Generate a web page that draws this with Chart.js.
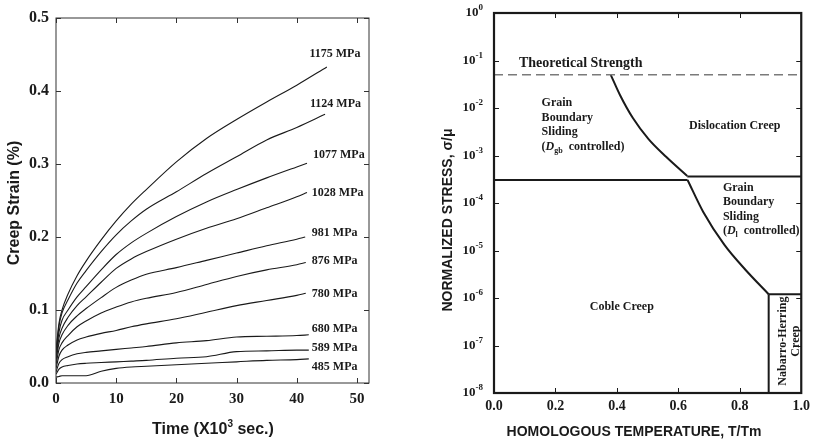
<!DOCTYPE html>
<html>
<head>
<meta charset="utf-8">
<script src="https://cdn.jsdelivr.net/npm/chart.js@4"></script>
<style>
  body { margin: 0; background: #fff; }
  #wrap { position: relative; width: 815px; height: 439px; background: #fff; }
  #creep { position: absolute; left: 0; top: 0; }
  #mech { position: absolute; left: 400px; top: 0; }
</style>
</head>
<body>
<div id="wrap">
  <canvas id="creep" width="400" height="439"></canvas>
  <canvas id="mech" width="415" height="439"></canvas>
</div>
<script>
const SERIF = '"Liberation Serif", "Times New Roman", serif';
const SANS = '"Liberation Sans", Arial, sans-serif';
const INK = '#1a1a1a';

// ---- creep curves (time in 10^3 s, strain in %) ----
const stressLabels = ['1175 MPa', '1124 MPa', '1077 MPa', '1028 MPa', '981 MPa',
                      '876 MPa', '780 MPa', '680 MPa', '589 MPa', '485 MPa'];
const sampleTimes = [0, 0.5, 1, 2, 3.5, 5, 7.5, 10, 12.5, 15, 20, 25, 30, 35, 40];
// last point of every curve sits at its own end time
const endTimes = [45, 44.7, 41.7, 41.7, 41.4, 41.5, 41.5, 42, 42, 42];

const strain1175 = [0.045, 0.082, 0.100, 0.122, 0.147, 0.167, 0.196, 0.222, 0.245, 0.265, 0.303, 0.335, 0.361, 0.385, 0.408, 0.433];
const strain1124 = [0.042, 0.078, 0.096, 0.114, 0.137, 0.154, 0.180, 0.203, 0.222, 0.238, 0.262, 0.287, 0.310, 0.333, 0.350, 0.368];
const strain1077 = [0.038, 0.070, 0.086, 0.100, 0.118, 0.132, 0.155, 0.176, 0.192, 0.205, 0.228, 0.248, 0.265, 0.281, 0.296, 0.301];
const strain1028 = [0.034, 0.062, 0.075, 0.090, 0.106, 0.118, 0.138, 0.157, 0.170, 0.180, 0.197, 0.212, 0.225, 0.240, 0.255, 0.261];
const strain981  = [0.030, 0.055, 0.066, 0.079, 0.092, 0.102, 0.117, 0.131, 0.141, 0.149, 0.158, 0.168, 0.178, 0.188, 0.197, 0.200];
const strain876  = [0.025, 0.046, 0.055, 0.065, 0.077, 0.085, 0.096, 0.104, 0.111, 0.116, 0.124, 0.135, 0.146, 0.155, 0.162, 0.165];
const strain780  = [0.020, 0.037, 0.045, 0.052, 0.059, 0.063, 0.068, 0.072, 0.077, 0.081, 0.088, 0.097, 0.106, 0.113, 0.120, 0.123];
const strain680  = [0.015, 0.027, 0.032, 0.036, 0.040, 0.042, 0.044, 0.046, 0.048, 0.050, 0.055, 0.058, 0.063, 0.064, 0.065, 0.066];
const strain589  = [0.012, 0.019, 0.022, 0.024, 0.026, 0.027, 0.028, 0.029, 0.030, 0.031, 0.034, 0.036, 0.043, 0.044, 0.045, 0.045];
const strain485  = [0.008, 0.009, 0.010, 0.010, 0.010, 0.010, 0.016, 0.020, 0.022, 0.023, 0.025, 0.027, 0.029, 0.031, 0.032, 0.033];
const strainSeries = [strain1175, strain1124, strain1077, strain1028, strain981,
                      strain876, strain780, strain680, strain589, strain485];

// where each stress tag is written (data units)
const tagTimes   = [42.1, 42.2, 42.7, 42.5, 42.5, 42.5, 42.5, 42.5, 42.5, 42.5];
const tagStrains = [0.451, 0.382, 0.312, 0.260, 0.205, 0.167, 0.122, 0.074, 0.048, 0.022];

// ---- deformation mechanism map (T/Tm vs sigma/mu) ----
const stressDecades = [0, -1, -2, -3, -4, -5, -6, -7, -8];
const theoryT = [0, 1];
const theoryS = [0.05, 0.05];
const gbsUpperT = [0.38, 0.41, 0.452, 0.503, 0.561, 0.629];
const gbsUpperS = [0.05, 0.0188, 0.00615, 0.00222, 0.00093, 0.00037];
const splitLeftT = [0, 0.63];
const splitLeftS = [3.05e-4, 3.05e-4];
const splitRightT = [0.629, 1];
const splitRightS = [3.6e-4, 3.6e-4];
const gbsLowerT = [0.63, 0.681, 0.75, 0.819, 0.894];
const gbsLowerS = [3.05e-4, 6.47e-5, 1.31e-5, 3.89e-6, 1.2e-6];
const nhTopT = [0.894, 1];
const nhTopS = [1.2e-6, 1.2e-6];
const nhSideT = [0.894, 0.894];
const nhSideS = [1.2e-6, 1e-8];

// draws the plot box and short inward tick marks on all four sides
function boxTicks(lineWidth, color, len) {
  return {
    id: 'boxTicks',
    afterDatasetsDraw(chart) {
      const { ctx, chartArea: a, scales: { x, y } } = chart;
      ctx.save();
      ctx.strokeStyle = color;
      ctx.lineWidth = 1;
      ctx.beginPath();
      x.ticks.forEach(t => {
        const px = Math.round(x.getPixelForValue(t.value)) + 0.5;
        ctx.moveTo(px, a.bottom); ctx.lineTo(px, a.bottom - len);
        ctx.moveTo(px, a.top); ctx.lineTo(px, a.top + len);
      });
      y.ticks.forEach(t => {
        const py = Math.round(y.getPixelForValue(t.value)) + 0.5;
        ctx.moveTo(a.left, py); ctx.lineTo(a.left + len, py);
        ctx.moveTo(a.right, py); ctx.lineTo(a.right - len, py);
      });
      ctx.stroke();
      ctx.lineWidth = lineWidth;
      ctx.strokeRect(a.left, a.top, a.right - a.left, a.bottom - a.top);
      ctx.restore();
    }
  };
}

// writes a row of text pieces (font / vertical shift) one after another
function drawRuns(ctx, runs, x, y) {
  let cx = x;
  runs.forEach(r => {
    ctx.font = r.font;
    ctx.fillText(r.t, cx, y + (r.dy || 0));
    cx += ctx.measureText(r.t).width;
  });
  return cx - x;
}
function runsWidth(ctx, runs) {
  let w = 0;
  runs.forEach(r => { ctx.font = r.font; w += ctx.measureText(r.t).width; });
  return w;
}

// ---------------- left: creep strain vs time ----------------
const creepSets = strainSeries.map((vals, i) => ({
  label: stressLabels[i],
  data: vals.map((v, k) => ({ x: k < sampleTimes.length ? sampleTimes[k] : endTimes[i], y: v })),
  showLine: true,
  pointRadius: 0,
  borderColor: INK,
  borderWidth: 1.1,
  cubicInterpolationMode: 'monotone'
}));

const creepText = {
  id: 'creepText',
  afterDraw(chart) {
    const { ctx, scales: { x, y } } = chart;
    ctx.save();
    ctx.fillStyle = INK;
    ctx.textBaseline = 'middle';
    ctx.font = `bold 12px ${SERIF}`;
    stressLabels.forEach((s, i) => {
      ctx.fillText(s, x.getPixelForValue(tagTimes[i]), y.getPixelForValue(tagStrains[i]));
    });

    // axis titles
    ctx.font = `bold 16px ${SANS}`;
    ctx.textAlign = 'center';
    ctx.save();
    ctx.translate(15, 203);
    ctx.rotate(-Math.PI / 2);
    ctx.fillText('Creep Strain (%)', 0, 0);
    ctx.restore();

    const title = [
      { t: 'Time (X10', font: `bold 16px ${SANS}` },
      { t: '3', font: `bold 10px ${SANS}`, dy: -6 },
      { t: ' sec.)', font: `bold 16px ${SANS}` }
    ];
    ctx.textAlign = 'left';
    const w = runsWidth(ctx, title);
    drawRuns(ctx, title, 213 - w / 2, 430);
    ctx.restore();
  }
};

new Chart(document.getElementById('creep'), {
  type: 'scatter',
  data: { datasets: creepSets },
  options: {
    responsive: false,
    animation: false,
    events: [],
    layout: { padding: { top: 18, right: 31, left: 0, bottom: 0 } },
    plugins: { legend: { display: false }, tooltip: { enabled: false } },
    scales: {
      x: {
        type: 'linear', min: 0, max: 52,
        grid: { display: false, drawTicks: false }, border: { display: false },
        ticks: {
          stepSize: 10, includeBounds: false, padding: 7, color: INK,
          maxRotation: 0,
          font: { family: SERIF, size: 15, weight: 'bold' }
        },
        afterFit: s => { s.height = 56; }
      },
      y: {
        type: 'linear', min: 0, max: 0.5,
        grid: { display: false, drawTicks: false }, border: { display: false },
        ticks: {
          stepSize: 0.1, padding: 7, color: INK,
          font: { family: SERIF, size: 16, weight: 'bold' },
          callback: v => Number(v).toFixed(1)
        },
        afterFit: s => { s.width = 56; }
      }
    }
  },
  plugins: [boxTicks(1, '#333', 5), creepText]
});

// ---------------- right: deformation mechanism map ----------------
const seg = (xs, ys, extra) => Object.assign({
  data: xs.map((x, i) => ({ x, y: ys[i] })),
  showLine: true,
  pointRadius: 0,
  borderColor: INK,
  borderWidth: 2,
  cubicInterpolationMode: 'monotone'
}, extra || {});

const mechSets = [
  seg(theoryT, theoryS, { borderColor: '#7a7a7a', borderWidth: 1.5, borderDash: [9, 5] }),
  seg(gbsUpperT, gbsUpperS),
  seg(splitLeftT, splitLeftS),
  seg(splitRightT, splitRightS),
  seg(gbsLowerT, gbsLowerS),
  seg(nhTopT, nhTopS),
  seg(nhSideT, nhSideS)
];

// region captions, anchored in data units (T/Tm, sigma/mu)
const regionCaptions = [
  { lines: ['Theoretical Strength'], at: [0.081, 0.0886], size: 14 },
  { lines: ['Grain', 'Boundary', 'Sliding', { sub: 'gb' }], at: [0.155, 0.01274], size: 12, step: 14.7 },
  { lines: ['Dislocation Creep'], at: [0.635, 0.00418], size: 12 },
  { lines: ['Grain', 'Boundary', 'Sliding', { sub: 'l' }], at: [0.745, 2.07e-4], size: 12, step: 14.4 }
];

const mechText = {
  id: 'mechText',
  afterDraw(chart) {
    const { ctx, chartArea: a, scales: { x, y } } = chart;
    ctx.save();
    ctx.fillStyle = INK;
    ctx.textBaseline = 'middle';
    ctx.textAlign = 'left';

    // decade labels with raised exponents
    stressDecades.forEach(e => {
      const py = y.getPixelForValue(Math.pow(10, e));
      const runs = [
        { t: '10', font: `bold 13px ${SERIF}` },
        { t: e === 0 ? '0' : '-' + (-e), font: `bold 9px ${SERIF}`, dy: -5 }
      ];
      drawRuns(ctx, runs, a.left - 11 - runsWidth(ctx, runs), py);
    });

    regionCaptions.forEach(c => {
      const px = x.getPixelForValue(c.at[0]);
      let py = y.getPixelForValue(c.at[1]);
      c.lines.forEach(line => {
        if (typeof line === 'string') {
          ctx.font = `bold ${c.size}px ${SERIF}`;
          ctx.fillText(line, px, py);
        } else {
          drawRuns(ctx, [
            { t: '(', font: `bold ${c.size}px ${SERIF}` },
            { t: 'D', font: `italic bold ${c.size}px ${SERIF}` },
            { t: line.sub, font: `bold 8px ${SERIF}`, dy: 4 },
            { t: '  controlled)', font: `bold ${c.size}px ${SERIF}` }
          ], px, py);
        }
        py += c.step || 0;
      });
    });

    ctx.textAlign = 'center';
    ctx.font = `bold 12px ${SERIF}`;
    ctx.fillText('Coble Creep', x.getPixelForValue(0.416), y.getPixelForValue(6.47e-7));

    ctx.save();
    ctx.translate(x.getPixelForValue(0.955), y.getPixelForValue(1.02e-7));
    ctx.rotate(-Math.PI / 2);
    ctx.fillText('Nabarro-Herring', 4, -5);
    ctx.fillText('Creep', 4, 8);
    ctx.restore();

    // axis titles
    ctx.font = `bold 14px ${SANS}`;
    ctx.save();
    ctx.translate(48, 220);
    ctx.rotate(-Math.PI / 2);
    ctx.fillText('NORMALIZED STRESS, σ/μ', 0, 0);
    ctx.restore();
    ctx.fillText('HOMOLOGOUS TEMPERATURE, T/Tm', 234, 432);
    ctx.restore();
  }
};

new Chart(document.getElementById('mech'), {
  type: 'scatter',
  data: { datasets: mechSets },
  options: {
    responsive: false,
    animation: false,
    events: [],
    layout: { padding: { top: 13, right: 11, left: 0, bottom: 0 } },
    plugins: { legend: { display: false }, tooltip: { enabled: false } },
    scales: {
      x: {
        type: 'linear', min: 0, max: 1,
        grid: { display: false, drawTicks: false }, border: { display: false },
        ticks: {
          stepSize: 0.2, padding: 5, color: INK, maxRotation: 0,
          font: { family: SERIF, size: 14, weight: 'bold' },
          callback: v => Number(v).toFixed(1)
        },
        afterFit: s => { s.height = 46; }
      },
      y: {
        type: 'logarithmic', min: 1e-8, max: 1,
        grid: { display: false, drawTicks: false }, border: { display: false },
        ticks: { display: false },
        afterBuildTicks: s => { s.ticks = stressDecades.map(e => ({ value: Math.pow(10, e) })); },
        afterFit: s => { s.width = 94; }
      }
    }
  },
  plugins: [boxTicks(2.2, INK, 5), mechText]
});
</script>
</body>
</html>
